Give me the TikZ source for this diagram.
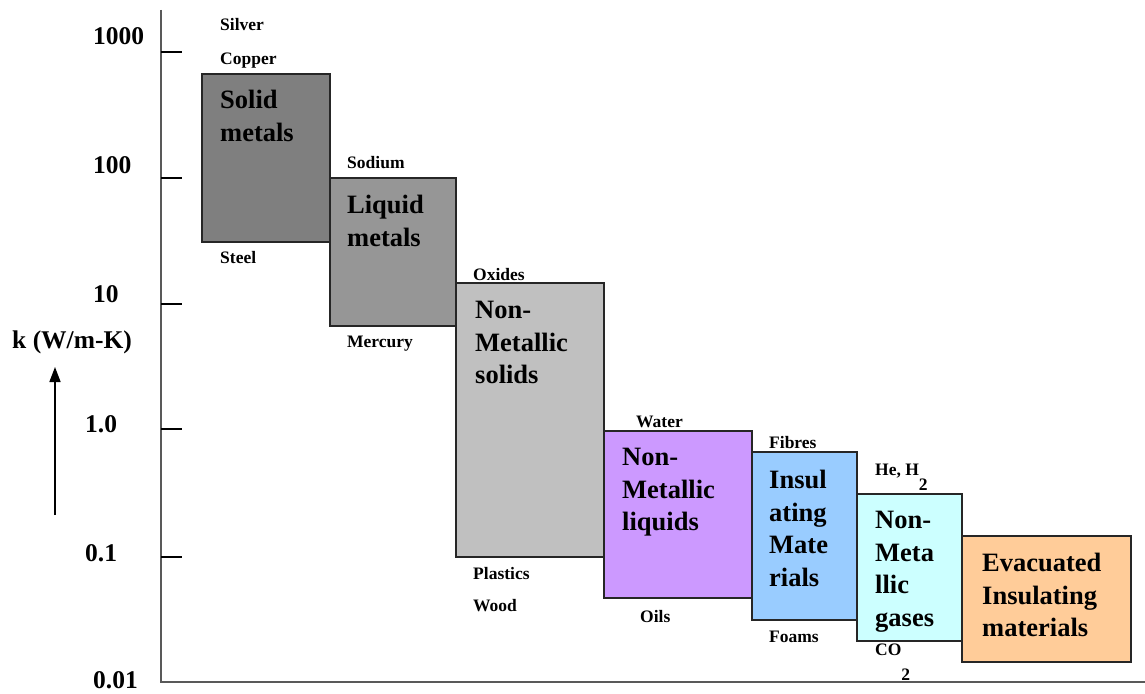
\documentclass[tikz,border=0pt]{standalone}
\usepackage{fontspec}
\setmainfont{Liberation Serif}
\usepackage{tikz}
\usetikzlibrary{arrows.meta}
\definecolor{solidgray}{HTML}{7F7F7F}
\definecolor{liquidgray}{HTML}{969696}
\definecolor{oxidegray}{HTML}{C0C0C0}
\definecolor{lilac}{HTML}{CC99FF}
\definecolor{skyblue}{HTML}{99CCFF}
\definecolor{paleaqua}{HTML}{CCFFFF}
\definecolor{peach}{HTML}{FFCC99}
\tikzset{
    matbox/.style={draw=black!85, line width=1.6pt},
    boxtext/.style={anchor=north west, inner sep=0pt, align=left,
        font=\bfseries\fontsize{26.5}{32.5}\selectfont},
    matlabel/.style={anchor=base west, inner sep=0pt,
        font=\bfseries\fontsize{17.5}{20}\selectfont},
    ticklabel/.style={anchor=base west, inner sep=0pt,
        font=\bfseries\fontsize{25.5}{28}\selectfont}
}

\begin{document}
\begin{tikzpicture}[x=1pt, y=-1pt]
        \useasboundingbox (0,0) rectangle (1145,693);
        % Axes and decade ticks
        \draw[black!65, line width=2pt] (161,10) -- (161,682) -- (1145,682);
        \foreach \ty in {52,178,304,429,557}
            \draw[line width=1.4pt] (161,\ty) -- (182,\ty);
        \node (t1000) at (93,45) [ticklabel] {1000};
        \node (t100) at (93,173) [ticklabel] {100};
        \node (t10) at (93,302) [ticklabel] {10};
        \node (t1) at (85,432) [ticklabel] {1.0};
        \node (t01) at (85,561) [ticklabel] {0.1};
        \node (t001) at (93,688) [ticklabel] {0.01};
        \node (klabel) at (12,348) [ticklabel] {k (W/m-K)};
        \coordinate (arrowfoot) at (55,515);
        \coordinate (arrowtip) at (55,367);
        \draw[line width=1.6pt, -{Triangle[length=15pt, width=11pt]}] (arrowfoot) -- (arrowtip);
        % Material ranges
        \draw[matbox, fill=solidgray] (202,74) rectangle (330,242);
        \draw[matbox, fill=liquidgray] (330,178) rectangle (456,326);
        \draw[matbox, fill=oxidegray] (456,283) rectangle (604,557);
        \draw[matbox, fill=lilac] (604,431) rectangle (752,598);
        \draw[matbox, fill=skyblue] (752,452) rectangle (857,620);
        \draw[matbox, fill=paleaqua] (857,494) rectangle (962,641);
        \draw[matbox, fill=peach] (962,536) rectangle (1131,662);
        % Range names
        \node (solid) at (220,90) [boxtext] {Solid\\metals};
        \node (liquid) at (347,195) [boxtext] {Liquid\\metals};
        \node (nmsolid) at (475,301) [boxtext] {Non-\\Metallic\\solids};
        \node (nmliquid) at (622,448) [boxtext] {Non-\\Metallic\\liquids};
        \node (insul) at (769,470) [boxtext] {Insul\\ating\\Mate\\rials};
        \node (nmgas) at (875,511) [boxtext] {Non-\\Meta\\llic\\gases};
        \node (evac) at (982,553) [boxtext] {Evacuated\\Insulating\\materials};
        % Example materials
        \node (silver) at (220,31) [matlabel] {Silver};
        \node (copper) at (220,65) [matlabel] {Copper};
        \node (steel) at (220,263) [matlabel] {Steel};
        \node (sodium) at (347,168) [matlabel] {Sodium};
        \node (mercury) at (347,347) [matlabel] {Mercury};
        \node (oxides) at (473,280) [matlabel] {Oxides};
        \node (plastics) at (473,579) [matlabel] {Plastics};
        \node (wood) at (473,611) [matlabel] {Wood};
        \node (water) at (636,427) [matlabel] {Water};
        \node (oils) at (640,622) [matlabel] {Oils};
        \node (fibres) at (769,448) [matlabel] {Fibres};
        \node (foams) at (769,642) [matlabel] {Foams};
        \node (heh) at (875,475) [matlabel] {He, H\raisebox{-15pt}{2}};
        \node (co) at (875,655) [matlabel] {CO\raisebox{-25pt}{2}};
    \end{tikzpicture}
\end{document}
